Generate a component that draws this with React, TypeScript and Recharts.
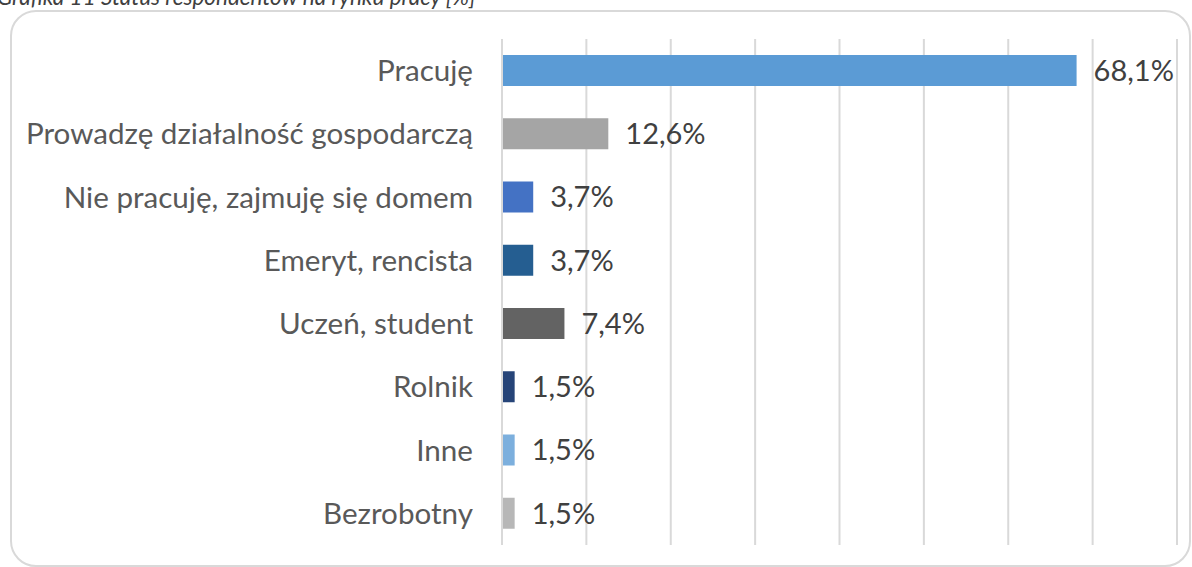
import { BarChart, Bar, XAxis, YAxis, CartesianGrid, Cell, LabelList } from 'recharts'

const categories = [
  'Pracuję',
  'Prowadzę działalność gospodarczą',
  'Nie pracuję, zajmuję się domem',
  'Emeryt, rencista',
  'Uczeń, student',
  'Rolnik',
  'Inne',
  'Bezrobotny',
]

const shares = [68.1, 12.6, 3.7, 3.7, 7.4, 1.5, 1.5, 1.5]

const barColors = ['#5B9BD5', '#A5A5A5', '#4472C4', '#255E91', '#636363', '#264478', '#7CAFDD', '#B7B7B7']

const xTicks = [0, 10, 20, 30, 40, 50, 60, 70, 80]

const data = categories.map((name, i) => ({ name, value: shares[i] }))

const FONT = 'Lato, "Open Sans", sans-serif'

export default function App() {
  return (
    <div
      style={{
        position: 'absolute',
        left: 0,
        top: 0,
        width: 1192,
        height: 567,
        overflow: 'hidden',
        background: '#fff',
        fontFamily: FONT,
      }}
    >
      {/* caption, cut off at the top like in the source */}
      <div
        style={{
          position: 'absolute',
          left: -3,
          top: -17,
          fontSize: 22.5,
          fontStyle: 'italic',
          color: '#404040',
          whiteSpace: 'nowrap',
        }}
      >
        Grafika 11 Status respondentów na rynku pracy [%]
      </div>
      <div
        style={{
          position: 'absolute',
          left: 10,
          top: 10,
          width: 1177,
          height: 553,
          border: '2px solid #d9d9d9',
          borderRadius: 26,
        }}
      />
      <div style={{ position: 'absolute', left: 0, top: 0 }}>
        <BarChart
          width={1192}
          height={567}
          data={data}
          layout="vertical"
          margin={{ top: 39, right: 15, bottom: 22, left: 0 }}
        >
          <CartesianGrid horizontal={false} stroke="#d9d9d9" strokeWidth={2} />
          <XAxis type="number" domain={[0, 80]} ticks={xTicks} hide />
          <YAxis
            type="category"
            dataKey="name"
            width={502}
            axisLine={{ stroke: '#d9d9d9', strokeWidth: 2 }}
            tickLine={false}
            tickSize={0}
            tickMargin={29}
            tick={{ fontSize: 29.6, fill: '#595959', fontFamily: FONT }}
          />
          <Bar dataKey="value" barSize={31} isAnimationActive={false}>
            {data.map((entry, index) => (
              <Cell key={`cell-${index}`} fill={barColors[index]} />
            ))}
            <LabelList
              dataKey="value"
              position="right"
              offset={17}
              fill="#404040"
              fontSize={29}
              fontFamily={FONT}
              formatter={(v: any) => `${String(v).replace('.', ',')}%`}
            />
          </Bar>
        </BarChart>
      </div>
    </div>
  )
}
